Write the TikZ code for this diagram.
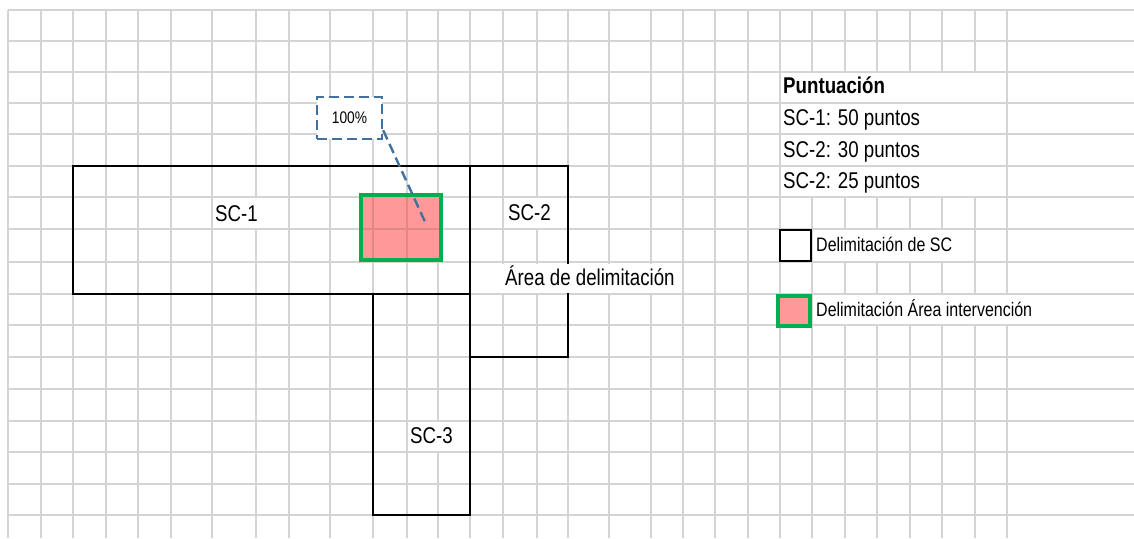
\documentclass[tikz,border=0pt]{standalone}
\usepackage{fontspec}
\setmainfont{Liberation Sans}[FakeStretch=0.82]
\definecolor{gridc}{RGB}{212,212,212}
\definecolor{pinkf}{RGB}{255,153,153}
\definecolor{pinkl}{RGB}{226,134,134}
\definecolor{greenb}{RGB}{0,176,80}
\definecolor{blued}{RGB}{65,113,156}
\begin{document}
\begin{tikzpicture}[x=1pt,y=-1pt,
  gridline/.style={draw=gridc,line width=1.5pt},
  scbox/.style={draw=black,line width=2.8pt},
  cover/.style={fill=white,draw=none},
  bigtxt/.style={inner sep=0pt,anchor=base west,font=\fontsize{22.8}{26}\selectfont},
  smalltxt/.style={inner sep=0pt,anchor=base west,font=\fontsize{19.5}{22}\selectfont},
  pctbox/.style={draw=blued,line width=2.4pt,dash pattern=on 10pt off 5pt,fill=white,
     minimum width=65pt,minimum height=42pt,inner sep=0pt,font=\fontsize{16.8}{19}\selectfont},
  callout/.style={draw=blued,line width=2.4pt,dash pattern=on 10pt off 5pt}]
\useasboundingbox (0,0) rectangle (1134,538);
\fill[white] (0,0) rectangle (1134,538);
% grid
\foreach \x in {8,41,73,106,138,171,212,256,289,330,373,407,438,470,503,537,568,609,651,683,715,748,780,812,845,877,910,942,975,1007}
  \draw[gridline] (\x,10) -- (\x,538);
\foreach \y in {10,41,72,103,134,166,197,229,262,294,325,357,389,421,452,484,515}
  \draw[gridline] (8,\y) -- (1134,\y);
% merged cells / text overflow (hidden grid lines)
\foreach \ya/\yb in {72/103,103/134,134/166,166/197}
  \fill[cover] (781,\ya+0.9) rectangle (1006.2,\yb-0.9);
\fill[cover] (250,197.9) rectangle (262,228.1);
\fill[cover] (531,197.9) rectangle (543,228.1);
\fill[cover] (432,421.9) rectangle (444,451.1);
\fill[cover] (813,229.9) rectangle (955,261.1);
\fill[cover] (813,294.9) rectangle (1034,324.1);
% SC boxes
\draw[scbox] (73,166) rectangle (470,294);
\draw[scbox] (470,166) rectangle (568,357);
\draw[scbox] (373,294) rectangle (470,515);
% intervention area
\fill[pinkf] (361,195) rectangle (441,260);
\draw[pinkl,line width=1.5pt] (373,196) -- (373,259) (407,196) -- (407,259) (362,229) -- (440,229);
\draw[greenb,line width=3.2pt] (361,195) rectangle (441,260);
% labels
\node[bigtxt] (sc1) at (215,221) {SC-1};
\node[bigtxt] (sc2) at (508,220) {SC-2};
\node[bigtxt] (sc3) at (410,443) {SC-3};
\fill[cover] (501.5,263.7) rectangle (677,293);
\node[bigtxt] (area) at (505,285) {Área de delimitación};
% callout
\node[pctbox] (pct) at (349.5,118) {100\%};
\coordinate (tip) at (426,224);
\draw[callout] (pct.-20) -- (tip);
% legend
\node[bigtxt] (punt) at (783,93) {\bfseries Puntuación};
\node[bigtxt] (p1) at (783,125) {SC-1: 50 puntos};
\node[bigtxt] (p2) at (783,157) {SC-2: 30 puntos};
\node[bigtxt] (p3) at (783,188) {SC-2: 25 puntos};
\draw[black,line width=2.8pt] (780,230) rectangle (811,261);
\node[smalltxt] (l1) at (816,251) {Delimitación de SC};
\fill[pinkf] (778,296) rectangle (810,326);
\draw[greenb,line width=3.2pt] (778,296) rectangle (810,326);
\node[smalltxt] (l2) at (816,316) {Delimitación Área intervención};
\end{tikzpicture}
\end{document}
